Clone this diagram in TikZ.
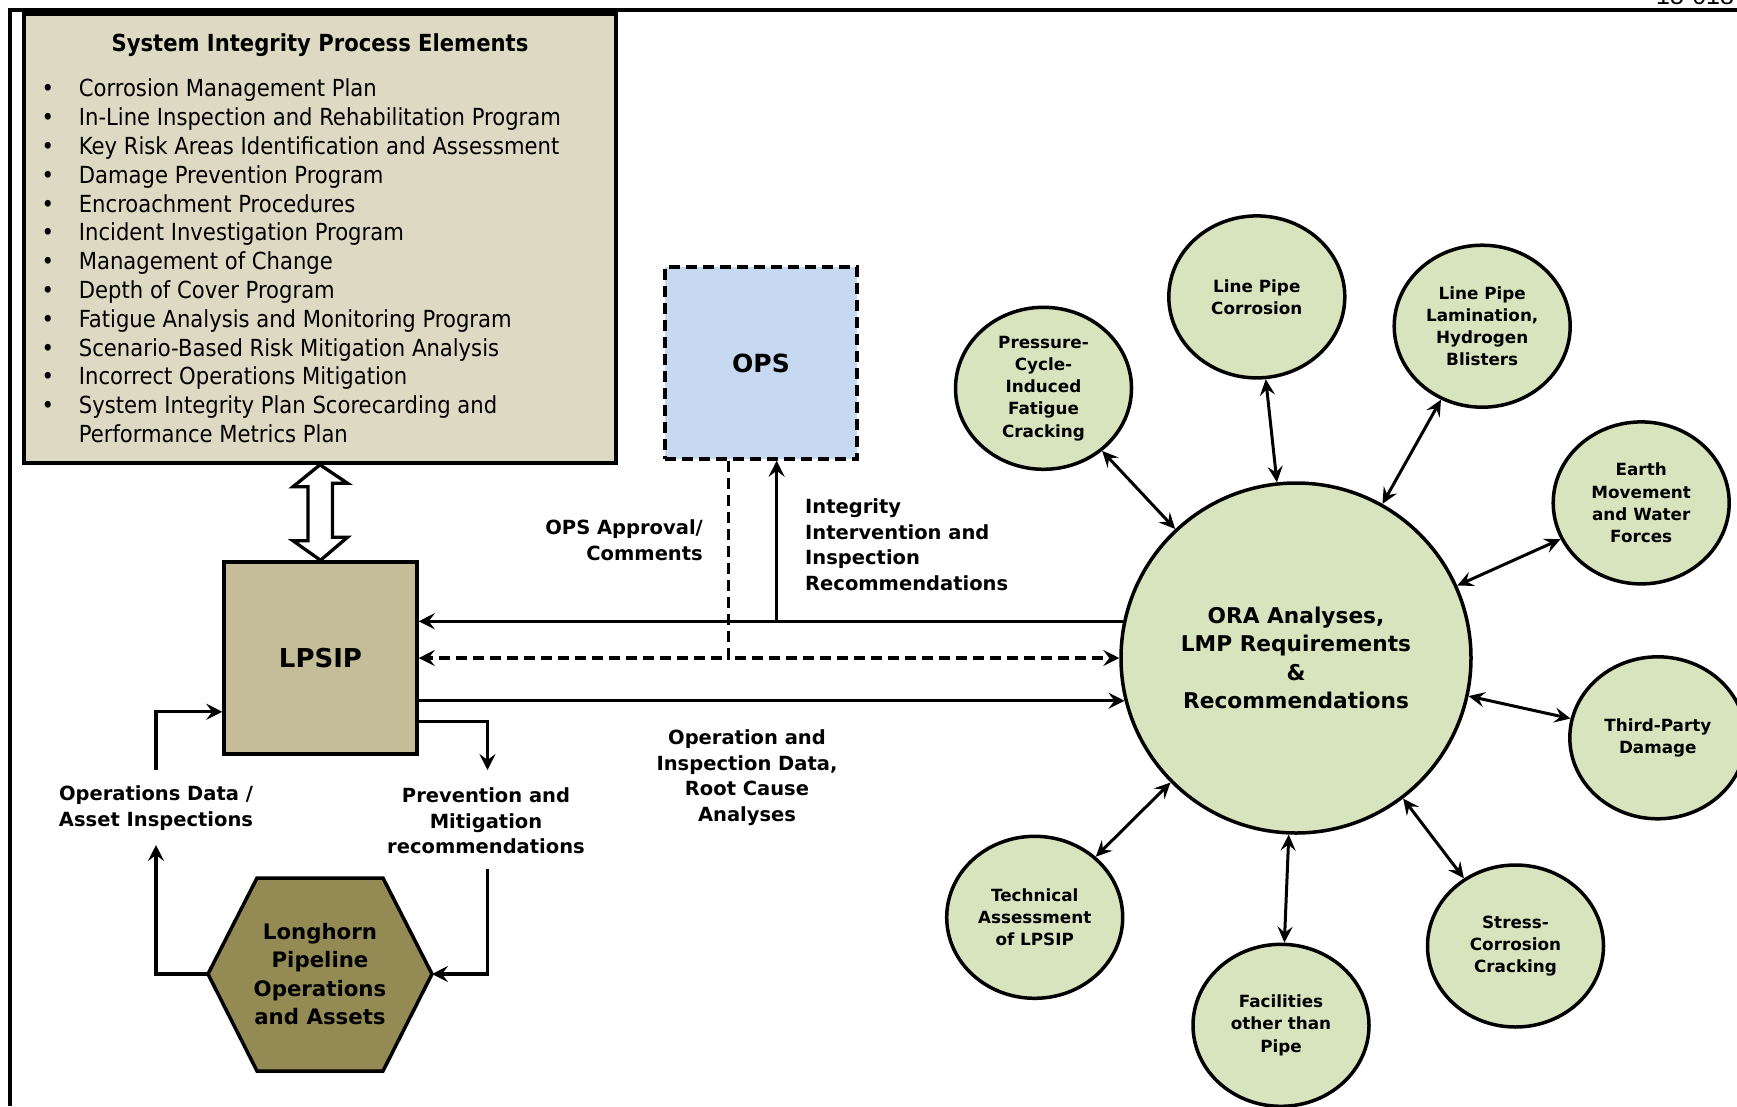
\documentclass[tikz,border=0pt]{standalone}
\usepackage{fontspec}
\setmainfont{DejaVu Sans}
\newfontfamily\condfont{DejaVu Sans Condensed}
\newfontfamily\figfont{Liberation Sans}
\usetikzlibrary{arrows.meta,shapes.geometric,calc}
\definecolor{sipbg}{RGB}{221,217,195}
\definecolor{lpsipbg}{RGB}{196,189,151}
\definecolor{opsbg}{RGB}{198,217,241}
\definecolor{hexbg}{RGB}{148,138,84}
\definecolor{orabg}{RGB}{215,228,189}
\begin{document}
\begin{tikzpicture}[x=1pt,y=-1pt,
  conn/.style={line width=3.3pt,-{Stealth[length=16pt,width=16pt,inset=6pt]}},
  dconn/.style={line width=3.3pt,dash pattern=on 11pt off 6pt,-{Stealth[length=16pt,width=16pt,inset=6pt]}},
  both/.style={line width=3pt,{Stealth[length=16pt,width=15pt,inset=6pt]}-{Stealth[length=16pt,width=15pt,inset=6pt]}},
  lbl/.style={font=\bfseries\fontsize{19.5}{25.5}\selectfont,align=center,inner sep=0pt},
  smallc/.style={ellipse,draw,fill=orabg,line width=3.5pt,minimum width=176pt,minimum height=162pt,inner sep=0pt,align=center,font=\bfseries\fontsize{16.8}{22.2}\selectfont},
  boxstyle/.style={draw,line width=3.5pt,inner sep=0pt}
]
\useasboundingbox (0,0) rectangle (1737,1106);

% frame
\coordinate (frBL) at (10,1106);
\coordinate (frTL) at (10,10);
\coordinate (frTR) at (1737,10);
\draw[line width=4pt] (frBL) -- (frTL) -- (frTR);
\node[font=\figfont\fontsize{25}{30}\selectfont,anchor=base west,inner sep=0pt] (fignum) at (1656,4.5) {15-018};

% System integrity box
\node[boxstyle,fill=sipbg,minimum width=592pt,minimum height=449pt] (sip) at (320,238.5) {};
\node[font=\condfont\bfseries\fontsize{23.5}{28}\selectfont,inner sep=0pt] (siptitle) at (320,45) {System Integrity Process Elements};
\node[anchor=north west,inner sep=0pt,font=\condfont\fontsize{23.5}{28.8}\selectfont] (siplist) at (41.5,76.5) {%
\begin{tabular}{@{}p{37.2pt}@{}l@{}}
\textbullet & Corrosion Management Plan\\
\textbullet & In-Line Inspection and Rehabilitation Program\\
\textbullet & Key Risk Areas Identification and Assessment\\
\textbullet & Damage Prevention Program\\
\textbullet & Encroachment Procedures\\
\textbullet & Incident Investigation Program\\
\textbullet & Management of Change\\
\textbullet & Depth of Cover Program\\
\textbullet & Fatigue Analysis and Monitoring Program\\
\textbullet & Scenario-Based Risk Mitigation Analysis\\
\textbullet & Incorrect Operations Mitigation\\
\textbullet & System Integrity Plan Scorecarding and\\
 & Performance Metrics Plan
\end{tabular}};

% LPSIP
\node[boxstyle,fill=lpsipbg,minimum width=193pt,minimum height=192pt,font=\bfseries\fontsize{26}{30}\selectfont] (lpsip) at (320.5,658) {LPSIP};

% OPS
\node[draw,line width=3.5pt,dash pattern=on 11pt off 6pt,fill=opsbg,minimum width=192pt,minimum height=192pt,inner sep=0pt,font=\bfseries\fontsize{25}{30}\selectfont] (ops) at (761,363) {OPS};

% hollow double arrow between SIP box and LPSIP
\draw[line width=3.3pt,fill=white,line join=miter] (sip.south) -- ++(-27,22) -- ++(15,0) -- ++(0,54) -- ++(-15,0) -- (lpsip.north) -- ++(27,-23) -- ++(-15,0) -- ++(0,-54) -- ++(15,0) -- cycle;

% hexagon
\coordinate (hexTL) at (257,878);
\coordinate (hexTR) at (383,878);
\coordinate (hexR) at (432,974);
\coordinate (hexBR) at (383,1071);
\coordinate (hexBL) at (257,1071);
\coordinate (hexL) at (208,974);
\draw[line width=3.5pt,fill=hexbg,line join=miter] (hexTL) -- (hexTR) -- (hexR) -- (hexBR) -- (hexBL) -- (hexL) -- cycle;
\node[align=center,inner sep=0pt,font=\bfseries\fontsize{21.3}{28.5}\selectfont] (hex) at (320,974) {Longhorn\\Pipeline\\Operations\\and Assets};

% ORA circle
\node[circle,draw,fill=orabg,line width=3.5pt,minimum size=350pt,inner sep=0pt,align=center,font=\bfseries\fontsize{21.7}{28.5}\selectfont] (ora) at (1296,658) {ORA Analyses,\\LMP Requirements\\\&\\Recommendations};

% small circles
\node[smallc] (pcf) at (1043.5,388.3) {Pressure-\\Cycle-\\Induced\\Fatigue\\Cracking};
\node[smallc] (lpc) at (1256.8,296.9) {Line Pipe\\Corrosion};
\node[smallc] (lpl) at (1482.2,326.2) {Line Pipe\\Lamination,\\Hydrogen\\Blisters};
\node[smallc] (emw) at (1641.2,502.9) {Earth\\Movement\\and Water\\Forces};
\node[smallc] (tpd) at (1657.8,737.8) {Third-Party\\Damage};
\node[smallc] (scc) at (1515.5,946) {Stress-\\Corrosion\\Cracking};
\node[smallc] (fop) at (1281,1025.3) {Facilities\\other than\\Pipe};
\node[smallc] (ta) at (1034.7,917.3) {Technical\\Assessment\\of LPSIP};

\foreach \n in {pcf,lpc,lpl,emw,tpd,scc,fop,ta}
  \draw[both] (ora) -- (\n);

% labels
\node[lbl,align=right,anchor=east] (opslbl) at (703,540) {OPS Approval/\\Comments};
\node[lbl,align=left,anchor=west] (intlbl) at (805,544.5) {Integrity\\Intervention and\\Inspection\\Recommendations};
\node[lbl] (oplbl) at (747,777.5) {Operation and\\Inspection Data,\\Root Cause\\Analyses};
\node[lbl] (prevlbl) at (486,821) {Prevention and\\Mitigation\\recommendations};
\node[lbl] (opdlbl) at (156,808) {Operations Data /\\Asset Inspections};

% OPS connection points
\coordinate (opsd) at ($(ops.south west)!0.333!(ops.south east)$);
\coordinate (opsu) at ($(ops.south west)!0.58!(ops.south east)$);

% horizontal connectors
\draw[conn] (ora.168) -- (ora.168 -| lpsip.east);
\draw[conn] (opsu |- ora.168) -- (opsu);
\draw[dconn] (opsd) |- (lpsip.east);
\draw[dconn] (opsd) |- (ora.west);
\draw[conn] (ora.194 -| lpsip.east) -- (ora.194);

% feedback loop
\coordinate (prevtip) at (487.5,770);
\coordinate (prevbot) at (487.5,869);
\coordinate (opdbot) at (156,845);
\coordinate (opdtop) at (156,770);
\draw[conn] ($(lpsip.south east)+(0,-34)$) -| (prevtip);
\draw[conn] (prevbot) |- (hexR);
\draw[conn] (hexL) -| (opdbot);
\draw[conn] (opdtop) |- ($(lpsip.south west)+(0,-44)$);
\end{tikzpicture}
\end{document}
